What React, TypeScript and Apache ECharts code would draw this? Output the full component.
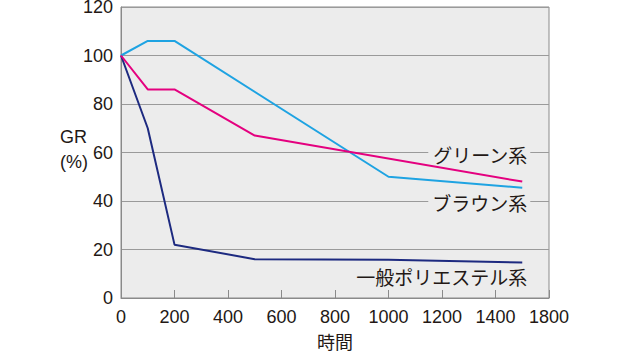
import React, { useEffect, useRef } from "react";
import * as echarts from "echarts";

const xTickLabels = ["0", "200", "400", "600", "800", "1000", "1200", "1400", "1800"];
const yTickLabels = ["0", "20", "40", "60", "80", "100", "120"];

const seriesNames = ["グリーン系", "ブラウン系", "一般ポリエステル系"];
const greenData: [number, number][] = [[0, 100], [100, 86], [200, 86], [500, 67], [1500, 48]];
const brownData: [number, number][] = [[0, 100], [100, 106], [200, 106], [1000, 50], [1500, 45.5]];
const polyData: [number, number][] = [[0, 100], [100, 70], [200, 22], [500, 16], [1000, 15.8], [1500, 14.6]];
const labelAnchors: [number, number][] = [[1530, 59.3], [1530, 39.3], [1530, 8.8]];

const colors = ["#e4007f", "#1ea3e2", "#1d2a80"];
const DIGIT_FONT = "'Liberation Sans Narrow', 'Liberation Sans', Arial, sans-serif";
const JP_FONT = "'Noto Sans CJK JP', sans-serif";

export default function App() {
  const ref = useRef<HTMLDivElement>(null);
  useEffect(() => {
    if (!ref.current) return;
    const chart = echarts.init(ref.current, null, { renderer: "svg" });
    const datasets = [greenData, brownData, polyData];
    chart.setOption({
      animation: false,
      backgroundColor: "#ffffff",
      grid: {
        left: 121,
        top: 7,
        width: 428,
        height: 291,
        show: true,
        outerBoundsMode: "none",
        containLabel: false,
        backgroundColor: "#ececec",
        borderColor: "#8a8a8a",
        borderWidth: 1,
      },
      title: [
        {
          text: "GR\n(%)",
          left: 60,
          top: 124,
          padding: 0,
          textStyle: { fontFamily: DIGIT_FONT, fontSize: 18, fontWeight: "normal", color: "#231815", lineHeight: 25 },
        },
      ],
      xAxis: {
        type: "value",
        min: 0,
        max: 1600,
        interval: 200,
        name: "時間",
        nameLocation: "middle",
        nameGap: 36,
        nameTextStyle: { fontFamily: JP_FONT, fontSize: 18, color: "#231815", lineHeight: 14 },
        axisLine: { show: true, lineStyle: { color: "#8a8a8a", width: 1 } },
        axisTick: { show: true, inside: true, length: 8, lineStyle: { color: "#8a8a8a" } },
        splitLine: { show: false },
        axisLabel: {
          margin: 10,
          fontFamily: DIGIT_FONT,
          fontSize: 18,
          color: "#231815",
          formatter: (v: number) => xTickLabels[Math.round(v / 200)] ?? "",
        },
      },
      yAxis: {
        type: "value",
        min: 0,
        max: 120,
        interval: 20,
        axisLine: { show: true, lineStyle: { color: "#8a8a8a", width: 1 } },
        axisTick: { show: false },
        splitLine: { show: true, lineStyle: { color: "#9a9a9a", width: 1 } },
        axisLabel: {
          margin: 8,
          fontFamily: DIGIT_FONT,
          fontSize: 18,
          lineHeight: 14,
          color: "#231815",
          formatter: (v: number) => yTickLabels[Math.round(v / 20)] ?? "",
        },
      },
      series: datasets.map((d, i) => ({
        type: "line",
        name: seriesNames[i],
        data: d,
        showSymbol: false,
        symbol: "none",
        lineStyle: { color: colors[i], width: 2 },
        z: 3 - i,
        markPoint: {
          symbol: "rect",
          symbolSize: 1,
          itemStyle: { color: "rgba(0,0,0,0)" },
          label: {
            show: true,
            position: "inside",
            align: "right",
            verticalAlign: "middle",
            formatter: seriesNames[i],
            fontFamily: JP_FONT,
            fontSize: 19,
            color: "#231815",
            backgroundColor: "#ececec",
            padding: [0, 3, 0, 4],
          },
          data: [{ coord: labelAnchors[i] }],
        },
      })),
    });
    return () => chart.dispose();
  }, []);
  return <div ref={ref} style={{ position: "absolute", left: 0, top: 0, width: 640, height: 351 }} />;
}
